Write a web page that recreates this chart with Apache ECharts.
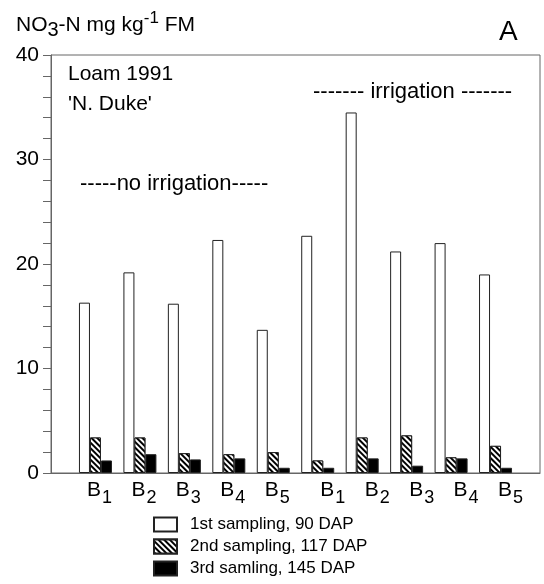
<!DOCTYPE html>
<html>
<head>
<meta charset="utf-8">
<script src="https://cdn.jsdelivr.net/npm/echarts@6/dist/echarts.min.js"></script>
<style>
  html, body { margin: 0; padding: 0; background: #fff; }
  #chart { width: 544px; height: 584px; }
</style>
</head>
<body>
<div id="chart"></div>
<script>
// blocks B1..B5, first without irrigation, then with irrigation
var blocks = ['B1', 'B2', 'B3', 'B4', 'B5', 'B1', 'B2', 'B3', 'B4', 'B5'];
var seriesNames = ['1st sampling, 90 DAP', '2nd sampling, 117 DAP', '3rd samling, 145 DAP'];
var first = [16.3, 19.2, 16.2, 22.3, 13.7, 22.7, 34.5, 21.2, 22.0, 19.0];
var second = [3.4, 3.4, 1.9, 1.8, 2.0, 1.2, 3.4, 3.6, 1.5, 2.6];
var third = [1.2, 1.8, 1.3, 1.4, 0.5, 0.5, 1.4, 0.7, 1.4, 0.5];
var yTicks = [0, 10, 20, 30, 40];

var FONT = 'Liberation Sans';

// one empty slot on each side so the groups sit on the inner ticks
function pad(arr) {
  return ['-'].concat(arr).concat(['-']);
}
var xData = [''].concat(blocks.map(function (b, i) { return 'c' + i; })).concat(['']);

var myChart = echarts.init(document.getElementById('chart'), null, { renderer: 'canvas' });

var barBorder = { borderColor: '#222', borderWidth: 1 };

var option = {
  animation: false,
  backgroundColor: '#fff',
  textStyle: { fontFamily: FONT, color: '#000' },
  title: {
    left: 11,
    top: 5,
    text: '{a|NO}{sub|3}{a|-N mg kg}{sup|-1}{a| FM}',
    textStyle: {
      fontWeight: 'normal',
      rich: {
        a: { fontFamily: FONT, fontSize: 21, fontWeight: 'normal', color: '#000', verticalAlign: 'top', padding: [5, 0, 0, 0] },
        sub: { fontFamily: FONT, fontSize: 20, fontWeight: 'normal', color: '#000', verticalAlign: 'top', padding: [10, 0, 0, 0] },
        sup: { fontFamily: FONT, fontSize: 17, fontWeight: 'normal', color: '#000', verticalAlign: 'top', padding: [0, 0, 0, 0] }
      }
    }
  },
  grid: {
    left: 51,
    right: 4,
    top: 55,
    bottom: 111,
    show: true,
    borderColor: '#666',
    borderWidth: 1,
    backgroundColor: 'transparent'
  },
  legend: {
    orient: 'vertical',
    left: 148,
    top: 511,
    height: 90,
    itemWidth: 23,
    itemHeight: 14,
    itemGap: 5,
    icon: 'rect',
    data: seriesNames,
    textStyle: { fontFamily: FONT, fontSize: 17, color: '#000', padding: [0, 0, 0, 8] }
  },
  xAxis: {
    type: 'category',
    data: xData,
    boundaryGap: false,
    axisTick: { show: false },
    axisLine: { lineStyle: { color: '#666' } },
    splitLine: { show: false },
    axisLabel: {
      interval: 0,
      margin: 7,
      formatter: function (v, idx) {
        if (idx < 1 || idx > blocks.length) return '';
        var name = blocks[idx - 1];
        var big = idx > 5 ? 'b2' : 'b';
        return '{' + big + '|' + name.charAt(0) + '}{s|' + name.substring(1) + '}';
      },
      rich: {
        b: { fontFamily: FONT, fontSize: 21, color: '#000', verticalAlign: 'top', padding: [0, 0, 0, 8] },
        b2: { fontFamily: FONT, fontSize: 21, color: '#000', verticalAlign: 'top', padding: [0, 0, 0, 30] },
        s: { fontFamily: FONT, fontSize: 18, color: '#000', verticalAlign: 'top', padding: [9, 0, 0, 1] }
      }
    }
  },
  yAxis: {
    type: 'value',
    min: 0,
    max: 40,
    interval: 2,
    axisLine: { show: true, lineStyle: { color: '#666' } },
    axisTick: { show: true, length: 8, lineStyle: { color: '#666' } },
    splitLine: { show: false },
    axisLabel: {
      margin: 12,
      fontFamily: FONT,
      fontSize: 21,
      color: '#000',
      formatter: function (v) {
        return yTicks.indexOf(v) >= 0 ? String(v) : '';
      }
    }
  },
  graphic: [
    { type: 'text', left: 68, top: 64, style: { text: 'Loam 1991', font: '21px "Liberation Sans"', fill: '#000' } },
    { type: 'text', left: 68, top: 94, style: { text: '\'N. Duke\'', font: '21px "Liberation Sans"', fill: '#000' } },
    { type: 'text', left: 80, top: 173, style: { text: '-----no irrigation-----', font: '22px "Liberation Sans"', fill: '#000' } },
    { type: 'text', left: 313, top: 81, style: { text: '------- irrigation -------', font: '22px "Liberation Sans"', fill: '#000' } },
    { type: 'text', left: 499, top: 18, style: { text: 'A', font: '28px "Liberation Sans"', fill: '#000' } }
  ],
  series: [
    {
      name: seriesNames[0],
      type: 'bar',
      barWidth: 11,
      barGap: '0%',
      itemStyle: echarts.util.extend({ color: '#fff' }, barBorder),
      data: pad(first)
    },
    {
      name: seriesNames[1],
      type: 'bar',
      barWidth: 11,
      barGap: '0%',
      itemStyle: echarts.util.extend({
        color: '#fff',
        decal: {
          symbol: 'rect',
          symbolSize: 1,
          dashArrayX: [1, 0],
          dashArrayY: [2, 2],
          rotation: Math.PI / 4,
          color: '#000',
          backgroundColor: '#fff'
        }
      }, barBorder),
      data: pad(second)
    },
    {
      name: seriesNames[2],
      type: 'bar',
      barWidth: 11,
      barGap: '0%',
      itemStyle: echarts.util.extend({ color: '#000' }, barBorder),
      data: pad(third)
    }
  ]
};

myChart.setOption(option);
</script>
</body>
</html>
